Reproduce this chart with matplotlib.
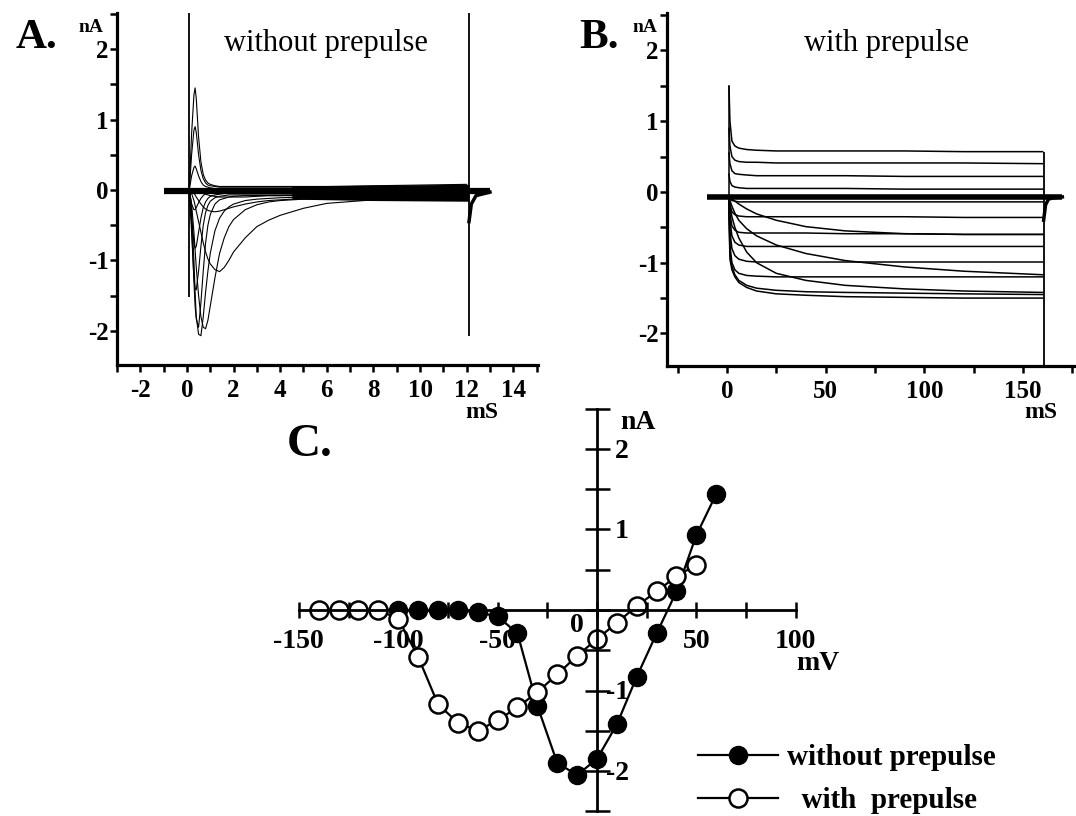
import numpy as np
import matplotlib
matplotlib.use('Agg')
import matplotlib.pyplot as plt
from matplotlib.ticker import MultipleLocator

plt.rcParams['font.family'] = ['Liberation Serif', 'DejaVu Serif']
plt.rcParams['axes.unicode_minus'] = False

# ---------------- panel A: Na currents without prepulse (ms, nA) ----------------
t_a = [0.1, 0.2, 0.3, 0.35, 0.4, 0.5, 0.6, 0.7, 0.8, 0.9, 1.0, 1.2, 1.4,
       1.6, 1.8, 2.0, 2.5, 3.0, 3.5, 4.0, 5.0, 6.0, 8.0, 10.0, 12.0]
a_p60 = [0.0, 0.8, 1.35, 1.45, 1.3, 0.75, 0.4, 0.22, 0.14, 0.1, 0.08, 0.06, 0.05,
         0.05, 0.05, 0.05, 0.05, 0.05, 0.05, 0.05, 0.05, 0.05, 0.06, 0.07, 0.08]
a_p50 = [0.0, 0.5, 0.85, 0.9, 0.82, 0.5, 0.28, 0.16, 0.1, 0.07, 0.06, 0.05, 0.04,
         0.04, 0.04, 0.04, 0.04, 0.04, 0.04, 0.04, 0.04, 0.04, 0.05, 0.05, 0.06]
a_p40 = [0.0, 0.2, 0.32, 0.34, 0.3, 0.2, 0.12, 0.07, 0.05, 0.04, 0.03, 0.02, 0.02,
         0.02, 0.02, 0.02, 0.02, 0.02, 0.02, 0.02, 0.02, 0.02, 0.02, 0.03, 0.03]
a_p30 = [0.0, -0.2, -0.28, -0.28, -0.25, -0.18, -0.12, -0.08, -0.05, -0.04, -0.03, -0.02, -0.02,
         -0.02, -0.02, -0.02, -0.02, -0.02, -0.02, -0.02, -0.02, -0.02, -0.02, -0.01, -0.01]
a_p20 = [0.0, -0.4, -0.75, -0.83, -0.8, -0.6, -0.4, -0.25, -0.17, -0.12, -0.09, -0.07, -0.06,
         -0.05, -0.05, -0.05, -0.05, -0.05, -0.05, -0.05, -0.05, -0.05, -0.04, -0.04, -0.04]
a_p10 = [0.0, -0.6, -1.25, -1.4, -1.42, -1.15, -0.8, -0.5, -0.32, -0.22, -0.16, -0.11, -0.09,
         -0.08, -0.07, -0.07, -0.07, -0.07, -0.07, -0.07, -0.07, -0.07, -0.06, -0.06, -0.06]
a_0 = [0.0, -0.5, -1.3, -1.65, -1.83, -1.95, -1.6, -1.15, -0.75, -0.5, -0.35, -0.2, -0.14,
       -0.12, -0.1, -0.09, -0.08, -0.08, -0.08, -0.08, -0.08, -0.08, -0.08, -0.08, -0.08]
a_m10 = [0.0, -0.3, -1.0, -1.45, -1.8, -2.05, -2.07, -1.8, -1.45, -1.15, -0.9, -0.58, -0.4,
         -0.3, -0.24, -0.2, -0.15, -0.13, -0.12, -0.11, -0.1, -0.1, -0.1, -0.1, -0.1]
a_m20 = [0.0, -0.2, -0.6, -0.85, -1.1, -1.5, -1.8, -1.95, -1.97, -1.85, -1.65, -1.25, -0.9,
         -0.68, -0.52, -0.42, -0.28, -0.21, -0.17, -0.15, -0.13, -0.12, -0.12, -0.12, -0.12]
a_m30 = [0.0, -0.05, -0.15, -0.22, -0.3, -0.45, -0.6, -0.75, -0.88, -0.98, -1.05, -1.13, -1.16,
         -1.1, -1.0, -0.88, -0.68, -0.52, -0.43, -0.36, -0.26, -0.19, -0.14, -0.12, -0.11]
a_m40 = [0.0, -0.02, -0.05, -0.07, -0.1, -0.15, -0.2, -0.24, -0.27, -0.29, -0.3, -0.31, -0.3,
         -0.28, -0.26, -0.24, -0.2, -0.17, -0.15, -0.14, -0.12, -0.11, -0.1, -0.1, -0.1]
a_m50 = [0.0, -0.01, -0.01, -0.02, -0.02, -0.03, -0.04, -0.05, -0.06, -0.07, -0.08, -0.09, -0.1,
         -0.1, -0.1, -0.1, -0.1, -0.09, -0.08, -0.08, -0.07, -0.07, -0.06, -0.06, -0.06]
a_spike_on = [0.08, -1.52, 2.6]      # time, low, high of capacitive artefacts
a_spike_off = [12.1, -2.08, 2.6]
a_tail_t = [12.1, 12.2, 12.4, 13.0]
a_tail_i = [-0.45, -0.2, -0.08, -0.03]
a_base_t = [-1.0, 13.0]
a_base_i = [-0.01, -0.01]
a_band_t = [4.5, 8.0, 12.1]
a_band_hi = [0.05, 0.07, 0.08]
a_band_lo = [-0.13, -0.15, -0.16]

# ---------------- panel B: with prepulse ----------------
t_b = [1, 1.5, 2.5, 4, 6, 10, 15, 25, 40, 60, 90, 120, 160]
b_p1 = [1.5, 1.0, 0.72, 0.65, 0.62, 0.6, 0.59, 0.58, 0.58, 0.58, 0.58, 0.57, 0.57]
b_p2 = [0.9, 0.65, 0.5, 0.45, 0.43, 0.42, 0.42, 0.41, 0.41, 0.41, 0.41, 0.41, 0.40]
b_p3 = [0.55, 0.4, 0.3, 0.26, 0.25, 0.24, 0.23, 0.23, 0.23, 0.23, 0.22, 0.22, 0.22]
b_p4 = [0.25, 0.15, 0.09, 0.07, 0.06, 0.05, 0.05, 0.05, 0.05, 0.05, 0.04, 0.04, 0.04]
b_m1 = [-0.07, -0.1, -0.12, -0.13, -0.14, -0.14, -0.14, -0.14, -0.14, -0.14, -0.14, -0.14, -0.14]
b_m2 = [-0.07, -0.18, -0.28, -0.32, -0.34, -0.35, -0.35, -0.35, -0.35, -0.35, -0.35, -0.36, -0.36]
b_m3 = [-0.07, -0.3, -0.48, -0.54, -0.57, -0.58, -0.58, -0.58, -0.58, -0.59, -0.59, -0.6, -0.6]
b_m4 = [-0.07, -0.4, -0.62, -0.71, -0.75, -0.77, -0.77, -0.77, -0.77, -0.77, -0.77, -0.77, -0.77]
b_m5 = [-0.1, -0.55, -0.8, -0.9, -0.95, -0.98, -0.99, -0.99, -0.99, -0.99, -0.99, -0.99, -0.99]
b_m6 = [-0.15, -0.75, -1.0, -1.1, -1.15, -1.18, -1.19, -1.2, -1.2, -1.2, -1.2, -1.2, -1.2]
b_m7 = [-0.2, -0.85, -1.05, -1.17, -1.25, -1.32, -1.36, -1.39, -1.41, -1.42, -1.43, -1.44, -1.45]
b_m8 = [-0.3, -0.95, -1.1, -1.2, -1.28, -1.35, -1.4, -1.44, -1.46, -1.48, -1.49, -1.5, -1.5]
b_s1 = [-0.07, -0.08, -0.1, -0.13, -0.17, -0.24, -0.31, -0.4, -0.49, -0.55, -0.59, -0.6, -0.6]
b_s2 = [-0.07, -0.12, -0.2, -0.3, -0.4, -0.52, -0.62, -0.75, -0.87, -0.97, -1.06, -1.12, -1.17]
b_s3 = [-0.1, -0.2, -0.35, -0.5, -0.65, -0.85, -1.0, -1.15, -1.25, -1.32, -1.37, -1.4, -1.42]
b_spike_off = [160.5, -2.6, 0.57]
b_tail_t = [160.5, 161.5, 163.0, 166.0, 170.0]
b_tail_i = [-0.4, -0.18, -0.1, -0.08, -0.07]
b_base_t = [-10.0, 170.0]
b_base_i = [-0.07, -0.07]

# ---------------- panel C: I-V relations ----------------
v_without = [-100, -90, -80, -70, -60, -50, -40, -30, -20, -10, 0, 10, 20, 30, 40, 50, 60]
i_without = [0.0, 0.0, 0.0, 0.0, -0.03, -0.08, -0.29, -1.19, -1.9, -2.05, -1.85, -1.42,
             -0.83, -0.29, 0.23, 0.93, 1.44]
v_with = [-140, -130, -120, -110, -100, -90, -80, -70, -60, -50, -40, -30, -20, -10,
          0, 10, 20, 30, 40, 50]
i_with = [0.0, 0.0, 0.0, 0.0, -0.11, -0.58, -1.17, -1.4, -1.5, -1.37, -1.21, -1.02,
          -0.8, -0.57, -0.36, -0.16, 0.05, 0.23, 0.42, 0.56]
c_xticks = [-150, -100, -50, 50, 100]
c_yticks = [2, 1, -1, -2]

W, H = 1076.0, 816.0
fig = plt.figure(figsize=(10.76, 8.16), dpi=100)


def px_axes(l, t, r, b):
    return fig.add_axes([l / W, 1 - b / H, (r - l) / W, (b - t) / H])


def trace_axes(ax, xmaj, xmin_, xlabels):
    for s in ['top', 'right']:
        ax.spines[s].set_visible(False)
    for s in ['left', 'bottom']:
        ax.spines[s].set_linewidth(2.3)
    ax.set_xticks(xmaj, xlabels, fontweight='bold')
    ax.xaxis.set_minor_locator(MultipleLocator(xmin_))
    ax.set_yticks([-2, -1, 0, 1, 2], ['-2', '-1', '0', '1', '2'], fontweight='bold')
    ax.yaxis.set_minor_locator(MultipleLocator(0.5))
    ax.tick_params(which='both', direction='out', width=1.8, length=5, labelsize=18)
    ax.tick_params(axis='y', pad=1)
    ax.tick_params(axis='x', pad=5)


# ---- A ----
ax_a = px_axes(117, 13, 538, 365)
ax_a.set_xlim(-3.0, 15.06)
ax_a.set_ylim(-2.486, 2.514)
ax_a.plot(a_base_t, a_base_i, 'k', lw=4.5, solid_capstyle='butt')
ax_a.fill_between(a_band_t, a_band_lo, a_band_hi, color='k', lw=0)
for tr in [a_p60, a_p50, a_p40, a_p30, a_p20, a_p10, a_0, a_m10, a_m20, a_m30, a_m40, a_m50]:
    ax_a.plot(t_a, tr, 'k', lw=0.8)
ax_a.vlines([a_spike_on[0], a_spike_off[0]], [a_spike_on[1], a_spike_off[1]],
            [a_spike_on[2], a_spike_off[2]], color='k', lw=1.3)
ax_a.plot(a_tail_t, a_tail_i, 'k', lw=2.5)
trace_axes(ax_a, list(range(-2, 15, 2)), 1, [str(v) for v in range(-2, 15, 2)])

# ---- B ----
ax_b = px_axes(667, 13, 1075, 366)
ax_b.set_xlim(-30.4, 176.4)
ax_b.set_ylim(-2.46, 2.53)
ax_b.plot(b_base_t, b_base_i, 'k', lw=4.0, solid_capstyle='butt')
for tr in [b_p1, b_p2, b_p3, b_p4, b_m1, b_m2, b_m3, b_m4, b_m5, b_m6, b_m7, b_m8,
           b_s1, b_s2, b_s3]:
    ax_b.plot(t_b, tr, 'k', lw=1.1)
ax_b.vlines([t_b[0]], [b_m8[0]], [b_p1[0]], color='k', lw=1.1)
ax_b.vlines([b_spike_off[0]], [b_spike_off[1]], [b_spike_off[2]], color='k', lw=1.3)
ax_b.plot(b_tail_t, b_tail_i, 'k', lw=2.5)
trace_axes(ax_b, [0, 50, 100, 150], 25, ['0', '50', '100', '150'])

# ---- C ----
ax_c = px_axes(288.9, 407.1, 805.7, 815.3)
ax_c.set_xlim(-155, 105)
ax_c.set_ylim(-2.55, 2.52)
for s in ['top', 'right']:
    ax_c.spines[s].set_visible(False)
ax_c.spines['left'].set_position(('data', 0))
ax_c.spines['bottom'].set_position(('data', 0))
ax_c.spines['left'].set_bounds(-2.5, 2.5)
ax_c.spines['bottom'].set_bounds(-150, 100)
for s in ['left', 'bottom']:
    ax_c.spines[s].set_linewidth(2.0)
ax_c.set_xticks(np.arange(-150, 101, 25))
ax_c.set_yticks(np.arange(-2.5, 2.51, 0.5))
ax_c.tick_params(axis='x', direction='inout', length=11, width=1.8, labelbottom=False)
ax_c.tick_params(axis='y', direction='inout', length=18, width=1.8, labelleft=False)
ax_c.patch.set_visible(False)

l_without, = ax_c.plot(v_without, i_without, '-o', color='k', lw=1.6, ms=13,
                       mfc='k', mec='k', zorder=2)
l_with, = ax_c.plot(v_with, i_with, '-o', color='k', lw=1.6, ms=13,
                    mfc='white', mec='k', mew=1.8, zorder=2.1)

for v in c_xticks:
    ax_c.text(v, -0.39, str(v), ha='center', va='center', fontsize=20, fontweight='bold')
ax_c.text(-10, -0.19, '0', ha='center', va='center', fontsize=20, fontweight='bold')
for v in c_yticks:
    ax_c.text(16, v - 0.03, str(v), ha='right', va='center', fontsize=20, fontweight='bold')
ax_c.text(20.5, 2.33, 'nA', ha='center', va='center', fontsize=20, fontweight='bold')
ax_c.text(111, -0.66, 'mV', ha='center', va='center', fontsize=20, fontweight='bold')

fig.legend([l_without, l_with], ['without prepulse', '  with  prepulse'],
           loc='center left', bbox_to_anchor=(698 / W, 1 - 779 / H), frameon=False,
           borderpad=0, borderaxespad=0, handlelength=2.75, handletextpad=0.3,
           labelspacing=0.55, prop={'weight': 'bold', 'size': 21})

# ---- labels ----
fig.text(37 / W, 1 - 38 / H, 'A.', ha='center', va='center', fontsize=31, fontweight='bold')
fig.text(599 / W, 1 - 38 / H, 'B.', ha='center', va='center', fontsize=31, fontweight='bold')
fig.text(310 / W, 1 - 445 / H, 'C.', ha='center', va='center', fontsize=34, fontweight='bold')
fig.text(91 / W, 1 - 27 / H, 'nA', ha='center', va='center', fontsize=14, fontweight='bold')
fig.text(645 / W, 1 - 27 / H, 'nA', ha='center', va='center', fontsize=14, fontweight='bold')
fig.text(482 / W, 1 - 412 / H, 'mS', ha='center', va='center', fontsize=17, fontweight='bold')
fig.text(1041 / W, 1 - 412 / H, 'mS', ha='center', va='center', fontsize=17, fontweight='bold')
fig.text(326 / W, 1 - 43 / H, 'without prepulse', ha='center', va='center', fontsize=22)
fig.text(887 / W, 1 - 43 / H, 'with prepulse', ha='center', va='center', fontsize=22)

fig.savefig('out.png', dpi=100)
